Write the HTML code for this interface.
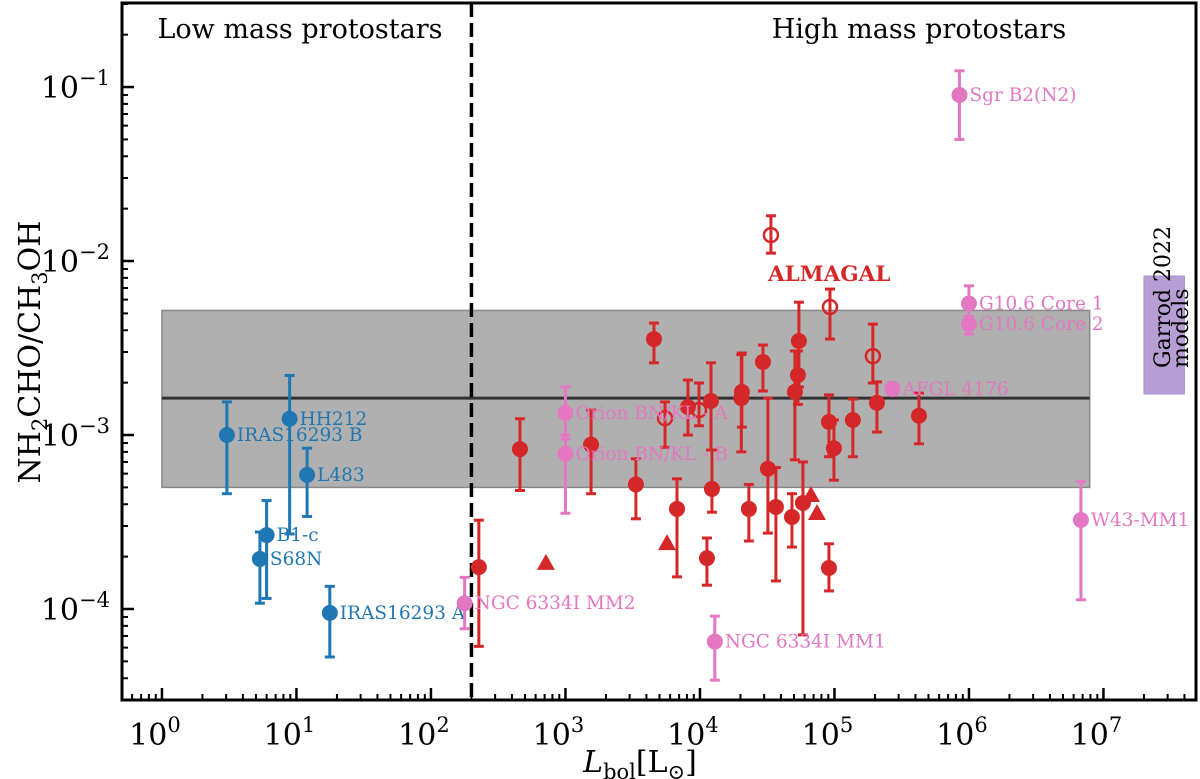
<!DOCTYPE html>
<html><head><meta charset="utf-8"><style>
html,body{margin:0;padding:0;background:#fff;}
svg{display:block;}
</style></head><body>
<svg id="chart" width="1200" height="779" xmlns="http://www.w3.org/2000/svg"></svg>
<script>
// ---- data ----
const lowNames = ["IRAS16293 B","HH212","L483","B1-c","S68N","IRAS16293 A"];
const lowL = [3.04, 8.9, 12, 6.0, 5.35, 17.7];
const lowR = [1.0e-3, 1.24e-3, 0.59e-3, 0.266e-3, 0.194e-3, 0.095e-3];
const lowHi = [1.55e-3, 2.2e-3, 0.84e-3, 0.42e-3, 0.277e-3, 0.135e-3];
const lowLo = [0.46e-3, 0.27e-3, 0.34e-3, 0.115e-3, 0.108e-3, 0.053e-3];

const litNames = ["NGC 6334I MM2","Orion BN/KL - A","Orion BN/KL - B","NGC 6334I MM1","AFGL 4176","G10.6 Core 1","G10.6 Core 2","Sgr B2(N2)","W43-MM1"];
const litL = [178, 1000, 1000, 12900, 2.7e5, 1e6, 1e6, 8.5e5, 6.8e6];
const litR = [0.108e-3, 1.34e-3, 0.78e-3, 0.065e-3, 1.84e-3, 5.7e-3, 4.34e-3, 0.09, 0.325e-3];
const litHi = [0.152e-3, 1.89e-3, 1.0e-3, 0.091e-3, 2.0e-3, 7.2e-3, 4.8e-3, 0.124, 0.54e-3];
const litLo = [0.077e-3, 0.95e-3, 0.355e-3, 0.039e-3, 1.7e-3, 4.6e-3, 3.8e-3, 0.05, 0.113e-3];

const almL = [227, 459, 1550, 3340, 4550, 6750, 8140, 11270, 12080, 12280, 20500, 20300, 23100, 29400, 32000, 36700, 48300, 50800, 53500, 54400, 58300, 91000, 99100, 91000, 1.37e5, 2.07e5, 4.25e5];
const almR = [1.74e-4, 8.3e-4, 8.8e-4, 5.2e-4, 3.56e-3, 3.76e-4, 1.45e-3, 1.96e-4, 1.57e-3, 4.9e-4, 1.77e-3, 1.63e-3, 3.76e-4, 2.63e-3, 6.4e-4, 3.86e-4, 3.38e-4, 1.77e-3, 2.21e-3, 3.47e-3, 4.07e-4, 1.19e-3, 8.4e-4, 1.72e-4, 1.22e-3, 1.53e-3, 1.29e-3];
const almHi = [3.24e-4, 1.24e-3, 1.39e-3, 7.3e-4, 4.4e-3, 5.6e-4, 2.07e-3, 2.56e-4, 2.6e-3, 8.2e-4, 2.96e-3, 2.9e-3, 5.2e-4, 3.29e-3, 1.63e-3, 6.5e-4, 4.6e-4, 3.04e-3, 3.04e-3, 5.8e-3, 7.0e-4, 1.7e-3, 1.22e-3, 2.37e-4, 1.61e-3, 2.02e-3, 1.74e-3];
const almLo = [6.1e-5, 4.8e-4, 4.6e-4, 3.3e-4, 2.6e-3, 1.53e-4, 1.0e-3, 1.37e-4, 8.2e-4, 3.6e-4, 1.11e-3, 8.0e-4, 2.46e-4, 1.79e-3, 2.73e-4, 1.45e-4, 2.27e-4, 7.2e-4, 1.5e-3, 1.89e-3, 7.1e-5, 7.5e-4, 5.5e-4, 1.27e-4, 7.5e-4, 1.04e-3, 8.9e-4];

const openL = [33700, 92600, 1.93e5, 5500, 9840];
const openR = [1.41e-2, 5.44e-3, 2.84e-3, 1.25e-3, 1.39e-3];
const openHi = [1.82e-2, 6.9e-3, 4.34e-3, 1.55e-3, 1.99e-3];
const openLo = [1.11e-2, 3.56e-3, 1.99e-3, 8.5e-4, 1.13e-3];

const triL = [716, 5690, 66900, 74100];
const triR = [1.84e-4, 2.39e-4, 4.52e-4, 3.56e-4];

const bandRange = [5.0e-4, 5.2e-3];
const bandMedian = [1.63e-3];
const bandL = [1, 7.9e6];
const garrodL = [2.0e7, 4.0e7];
const garrodR = [1.72e-3, 8.2e-3];
const divideL = [200];
const xTickExp = [0,1,2,3,4,5,6,7];
const yTickExp = [-4,-3,-2,-1];

// ---- axes ----
const PL=122, PR=1196, PT=3, PB=700;
const XMIN=-0.297, XMAX=7.688, YMIN=-4.523, YMAX=-0.517;
function X(v){return PL+(Math.log10(v)-XMIN)/(XMAX-XMIN)*(PR-PL);}
function Y(v){return PB-(Math.log10(v)-YMIN)/(YMAX-YMIN)*(PB-PT);}
const NS="http://www.w3.org/2000/svg";
const svg=document.getElementById('chart');
function el(tag,attrs,parent){const e=document.createElementNS(NS,tag);for(const k in attrs)e.setAttribute(k,attrs[k]);(parent||svg).appendChild(e);return e;}
const SERIF='"DejaVu Serif","Liberation Serif",serif';

// band
let b=el('rect',{x:X(bandL[0]),y:Y(bandRange[1]),width:X(bandL[1])-X(bandL[0]),height:Y(bandRange[0])-Y(bandRange[1]),fill:'#b0b0b0',stroke:'#888','stroke-width':1.5});


let m=el('line',{x1:X(bandL[0]),x2:X(bandL[1]),y1:Y(bandMedian[0]),y2:Y(bandMedian[0]),stroke:'#333','stroke-width':3});


// garrod
let g=el('rect',{x:X(garrodL[0]),y:Y(garrodR[1]),width:X(garrodL[1])-X(garrodL[0]),height:Y(garrodR[0])-Y(garrodR[1]),fill:'#b79fd6',stroke:'#a98fd0','stroke-width':1});


const gx=1170, gy=368;
let gt=el('text',{x:gx,y:gy,'font-family':SERIF,'font-size':22,'text-anchor':'start',fill:'#000',transform:`rotate(-90 ${gx} ${gy})`});


el('tspan',{x:gx,dy:0},gt).textContent='Garrod 2022';
el('tspan',{x:gx,dy:18},gt).textContent='models';
// divider
let dv=el('line',{x1:X(divideL[0]),x2:X(divideL[0]),y1:PT,y2:PB,stroke:'#000','stroke-width':3.5,'stroke-dasharray':'14,6'});



function errbar(x,hi,lo,color){
  el('line',{x1:x,x2:x,y1:Y(hi),y2:Y(lo),stroke:color,'stroke-width':3});
  el('line',{x1:x-5,x2:x+5,y1:Y(hi),y2:Y(hi),stroke:color,'stroke-width':3});
  el('line',{x1:x-5,x2:x+5,y1:Y(lo),y2:Y(lo),stroke:color,'stroke-width':3});
}
const BLUE='#1f77b4', PINK='#e377c2', RED='#d62728';
for(let i=0;i<almL.length;i++){
  const x=X(almL[i]);errbar(x,almHi[i],almLo[i],RED);
  const c=el('circle',{cx:x,cy:Y(almR[i]),r:8,fill:RED});
  
  
}
for(let i=0;i<openL.length;i++){
  const x=X(openL[i]);errbar(x,openHi[i],openLo[i],RED);
  const c=el('circle',{cx:x,cy:Y(openR[i]),r:7,fill:'none',stroke:RED,'stroke-width':2.5});
  
  
}
for(let i=0;i<triL.length;i++){
  const x=X(triL[i]),y=Y(triR[i]);
  const t=el('polygon',{points:`${x},${y-9} ${x-9},${y+7} ${x+9},${y+7}`,fill:RED});
  
  
}
function labeled(names,L,R,Hi,Lo,color,kind){
  for(let i=0;i<L.length;i++){
    const x=X(L[i]),y=Y(R[i]);errbar(x,Hi[i],Lo[i],color);
    const c=el('circle',{cx:x,cy:y,r:8,fill:color});
    
    
    const t=el('text',{x:x+10,y:y+6,'font-family':SERIF,'font-size':18.5,fill:color});
    t.textContent=names[i];
    
    
  }
}
labeled(lowNames,lowL,lowR,lowHi,lowLo,BLUE,'low-mass');
labeled(litNames,litL,litR,litHi,litLo,PINK,'high-mass-literature');

let al=el('text',{x:768,y:281,'font-family':SERIF,'font-size':21.5,'font-weight':'bold',fill:RED});
al.textContent='ALMAGAL';



// frame
let fr=el('rect',{x:PL,y:PT,width:PR-PL,height:PB-PT,fill:'none',stroke:'#000','stroke-width':3});


for(let e=-1;e<=8;e++){
  for(let k=1;k<10;k++){
    const v=k*Math.pow(10,e), lv=Math.log10(v);
    if(lv<XMIN||lv>XMAX)continue;
    const x=X(v),len=k===1?12:6;
    el('line',{x1:x,x2:x,y1:PB,y2:PB-len,stroke:'#000','stroke-width':k===1?2.5:2});
  }
}
for(let e=-5;e<=0;e++){
  for(let k=1;k<10;k++){
    const v=k*Math.pow(10,e), lv=Math.log10(v);
    if(lv<YMIN||lv>YMAX)continue;
    const y=Y(v),len=k===1?12:6;
    el('line',{x1:PL,x2:PL+len,y1:y,y2:y,stroke:'#000','stroke-width':k===1?2.5:2});
  }
}
xTickExp.forEach(e=>{
  const t=el('text',{x:X(Math.pow(10,e))-7,y:745,'font-family':SERIF,'font-size':30,'text-anchor':'middle',fill:'#000'});
  
  
  t.appendChild(document.createTextNode('10'));
  const s=el('tspan',{dy:-13,'font-size':21},t);s.textContent=String(e);
});
yTickExp.forEach(e=>{
  const t=el('text',{x:110,y:Y(Math.pow(10,e))+11,'font-family':SERIF,'font-size':30,'text-anchor':'end',fill:'#000'});
  
  
  t.appendChild(document.createTextNode('10'));
  const s=el('tspan',{dy:-13,'font-size':21},t);s.textContent='\u2212'+Math.abs(e);
});
let lt=el('text',{x:300,y:38,'font-family':SERIF,'font-size':27,'text-anchor':'middle',fill:'#000'});
lt.textContent='Low mass protostars';


let ht=el('text',{x:919,y:38,'font-family':SERIF,'font-size':27,'text-anchor':'middle',fill:'#000'});
ht.textContent='High mass protostars';


let yl=el('text',{x:40,y:352,'font-family':SERIF,'font-size':30,'text-anchor':'middle',fill:'#000',transform:'rotate(-90 40 352)'});


yl.appendChild(document.createTextNode('NH'));
let s1=el('tspan',{'font-size':21,dy:7},yl);s1.textContent='2';
let s2=el('tspan',{dy:-7},yl);s2.textContent='CHO/CH';
let s3=el('tspan',{'font-size':21,dy:7},yl);s3.textContent='3';
let s4=el('tspan',{dy:-7},yl);s4.textContent='OH';
let xl=el('text',{x:640,y:772,'font-family':SERIF,'font-size':30,'text-anchor':'middle',fill:'#000'});


let a1=el('tspan',{'font-style':'italic'},xl);a1.textContent='L';
let a2=el('tspan',{'font-size':21,dy:7},xl);a2.textContent='bol';
let a3=el('tspan',{dy:-7},xl);a3.textContent='[L';
let a4=el('tspan',{'font-size':21,dy:7},xl);a4.textContent='\u2299';
let a5=el('tspan',{dy:-7},xl);a5.textContent=']';
</script>
</body></html>
